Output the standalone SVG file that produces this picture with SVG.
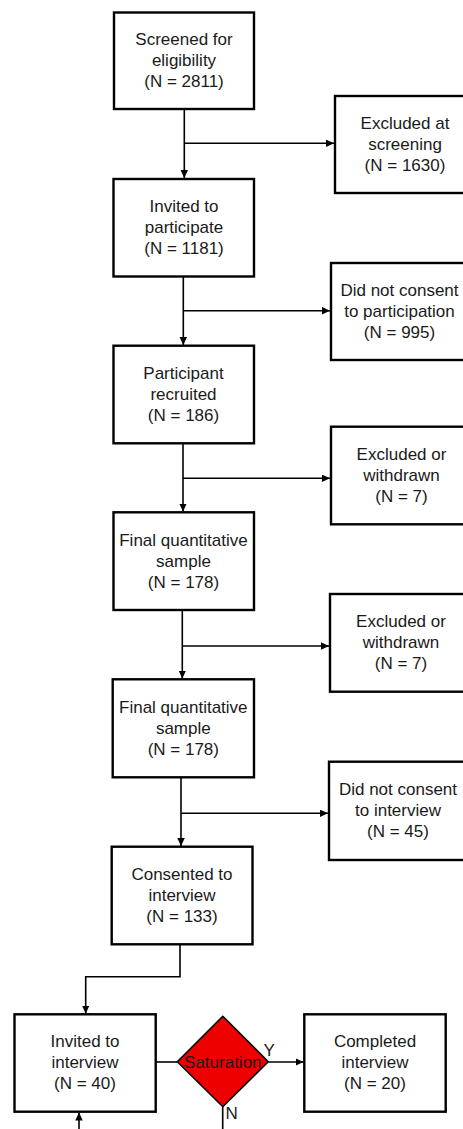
<svg xmlns="http://www.w3.org/2000/svg" width="463" height="1129" viewBox="0 0 463 1129">
<style>
.box{fill:#fff;stroke:#000;stroke-width:2.4}
.dia{fill:#ee0000;stroke:#000;stroke-width:1.5}
.ln{fill:none;stroke:#000;stroke-width:1.6}
text{font-family:"Liberation Sans",Arial,sans-serif;font-size:17px;fill:#1a1a1a;text-anchor:middle}
.lbl{text-anchor:start}
</style>
<defs>
<marker id="ah" markerUnits="userSpaceOnUse" markerWidth="9" markerHeight="8" refX="8" refY="3.75" orient="auto">
<path d="M0,0 L8,3.75 L0,7.5 z" fill="#000"/>
</marker>
</defs>
<rect width="463" height="1129" fill="#fff"/>
<g id="connectors">
<path class="ln" d="M184.3,109 V178" marker-end="url(#ah)"/>
<path class="ln" d="M184.3,143.3 H334" marker-end="url(#ah)"/>
<path class="ln" d="M183.3,276.5 V345" marker-end="url(#ah)"/>
<path class="ln" d="M183.3,310.7 H330" marker-end="url(#ah)"/>
<path class="ln" d="M183,443.3 V511.5" marker-end="url(#ah)"/>
<path class="ln" d="M183,478.3 H330" marker-end="url(#ah)"/>
<path class="ln" d="M182.3,610 V678.5" marker-end="url(#ah)"/>
<path class="ln" d="M182.3,646 H329" marker-end="url(#ah)"/>
<path class="ln" d="M181,777.3 V846" marker-end="url(#ah)"/>
<path class="ln" d="M181,813.3 H328" marker-end="url(#ah)"/>
<path class="ln" d="M180,944.3 V976.7 H85.7 V1013.5" marker-end="url(#ah)"/>
<path class="ln" d="M79,1129 V1112.5" marker-end="url(#ah)"/>
<path class="ln" d="M155.7,1062 H177.3"/>
<path class="ln" d="M268.3,1062 H303.5" marker-end="url(#ah)"/>
<path class="ln" d="M222.7,1106.7 V1129"/>
</g>
<g id="n1"><rect class="box" x="114" y="12.5" width="140" height="96.5"/>
<text x="184" y="45">Screened for</text><text x="184" y="66">eligibility</text><text x="184" y="87">(N = 2811)</text></g>
<g id="n1x"><rect class="box" x="335" y="96" width="140" height="97"/>
<text x="405" y="129">Excluded at</text><text x="405" y="150">screening</text><text x="405" y="171">(N = 1630)</text></g>
<g id="n2"><rect class="box" x="113.5" y="179" width="140.5" height="97.5"/>
<text x="184" y="212">Invited to</text><text x="184" y="233">participate</text><text x="184" y="254">(N = 1181)</text></g>
<g id="n2x"><rect class="box" x="331" y="263" width="137" height="97"/>
<text x="399.5" y="296">Did not consent</text><text x="399.5" y="317">to participation</text><text x="399.5" y="338">(N = 995)</text></g>
<g id="n3"><rect class="box" x="113.5" y="345.7" width="140.5" height="97.6"/>
<text x="183.5" y="379">Participant</text><text x="183.5" y="400">recruited</text><text x="183.5" y="421">(N = 186)</text></g>
<g id="n3x"><rect class="box" x="331" y="426.7" width="141" height="97.6"/>
<text x="401.5" y="460">Excluded or</text><text x="401.5" y="481">withdrawn</text><text x="401.5" y="502">(N = 7)</text></g>
<g id="n4"><rect class="box" x="113.5" y="512.3" width="140.5" height="97.7"/>
<text x="183.5" y="546">Final quantitative</text><text x="183.5" y="567">sample</text><text x="183.5" y="588">(N = 178)</text></g>
<g id="n4x"><rect class="box" x="330" y="594" width="142" height="97.7"/>
<text x="401" y="627">Excluded or</text><text x="401" y="648">withdrawn</text><text x="401" y="669">(N = 7)</text></g>
<g id="n5"><rect class="box" x="112.7" y="679.3" width="141.3" height="98"/>
<text x="183.3" y="713">Final quantitative</text><text x="183.3" y="734">sample</text><text x="183.3" y="755">(N = 178)</text></g>
<g id="n5x"><rect class="box" x="329" y="761.7" width="138" height="98.3"/>
<text x="398" y="795">Did not consent</text><text x="398" y="816">to interview</text><text x="398" y="837">(N = 45)</text></g>
<g id="n6"><rect class="box" x="111.7" y="846.7" width="140.8" height="97.6"/>
<text x="182" y="880">Consented to</text><text x="182" y="901">interview</text><text x="182" y="922">(N = 133)</text></g>
<g id="n7"><rect class="box" x="14.5" y="1014.3" width="141.2" height="97.4"/>
<text x="85" y="1047">Invited to</text><text x="85" y="1068">interview</text><text x="85" y="1089">(N = 40)</text></g>
<g id="dec"><polygon class="dia" points="222.8,1016.2 268.3,1061.7 222.8,1106.7 177.3,1061.7"/>
<text x="222.8" y="1067.5" fill="#1a1a1a">Saturation</text>
<text class="lbl" x="263.5" y="1055.5">Y</text>
<text class="lbl" x="225.5" y="1118.5">N</text></g>
<g id="n8"><rect class="box" x="304.3" y="1014.3" width="141.4" height="97.4"/>
<text x="375" y="1047">Completed</text><text x="375" y="1068">interview</text><text x="375" y="1089">(N = 20)</text></g>
</svg>
